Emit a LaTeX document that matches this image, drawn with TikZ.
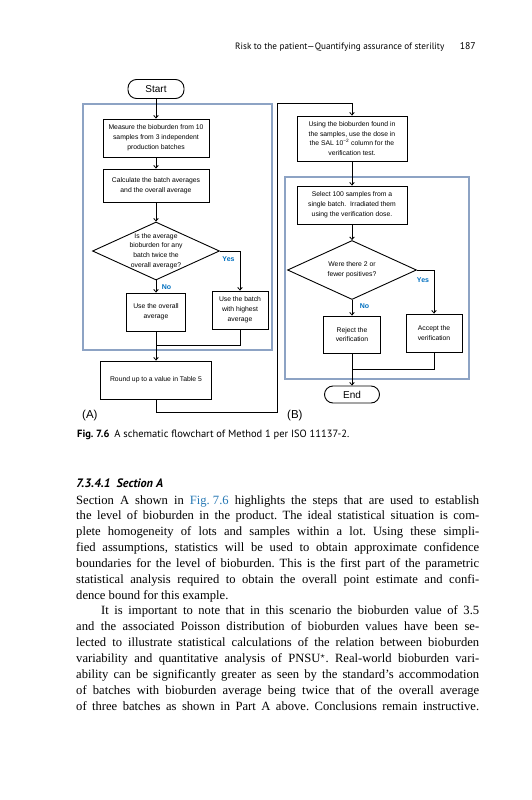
\documentclass[tikz,border=0pt]{standalone}
\usepackage{fontspec}
\setmainfont{Liberation Serif}
\setsansfont{Liberation Sans}
\newfontfamily\pagefont{PT Sans}
\usetikzlibrary{shapes.geometric,arrows.meta}
\definecolor{framebl}{RGB}{141,163,196}
\definecolor{answerbl}{RGB}{0,112,192}
\definecolor{linkbl}{RGB}{38,120,180}
\newcommand{\bodyline}[1]{\makebox[403pt][s]{#1}}
\frenchspacing

\begin{document}
\begin{tikzpicture}[x=1pt,y=-1pt,
        stepbox/.style={draw, line width=0.9pt, align=center, inner sep=0pt,
            font=\sffamily\fontsize{6.8}{9.8}\selectfont},
        endbox/.style={draw, line width=0.9pt, rounded corners=8.5pt, inner sep=0pt,
            font=\sffamily\fontsize{10}{12}\selectfont},
        decision/.style={draw, diamond, line width=0.9pt, inner sep=0pt},
        decisiontext/.style={align=center, inner sep=0pt, font=\sffamily\fontsize{6.8}{9.8}\selectfont},
        answer/.style={text=answerbl, inner sep=0pt, font=\sffamily\bfseries\fontsize{7}{8}\selectfont},
        frame/.style={draw=framebl, line width=2.6pt},
        flow/.style={line width=0.8pt, -{Straight Barb[length=2.5pt,width=4.5pt]}},
        wire/.style={line width=0.8pt},
        pagetext/.style={anchor=base west, inner sep=0pt},
        bodytext/.style={anchor=base west, inner sep=0pt, font=\fontsize{12.6}{15.85}\selectfont}]

    % page size
    \path[use as bounding box, fill=white] (0,0) rectangle (531,800);

    % running head
    \node[pagetext, font=\pagefont\fontsize{9.2}{11}\selectfont] (runhead) at (235,49)
        {Risk to the patient—Quantifying assurance of sterility};
    \node[pagetext, anchor=base east, font=\pagefont\fontsize{9.8}{11}\selectfont] (folio) at (476,49) {187};

    % the two section frames
    \draw[frame] (83,104) rectangle (272,350);
    \draw[frame] (285,177) rectangle (469,379);

    % section A
    \node[endbox, minimum width=56pt, minimum height=19pt] (start) at (156,89) {Start};
    \node[stepbox, minimum width=106pt, minimum height=38pt] (measure) at (156,138)
        {Measure the bioburden from 10\\samples from 3 independent\\production batches};
    \node[stepbox, minimum width=106pt, minimum height=33pt] (calc) at (156,185.5)
        {Calculate the batch averages\\and the overall average};
    \node[decision, minimum width=127pt, minimum height=58pt] (twice) at (156,251) {};
    \node[decisiontext] (twicetext) at (twice.center)
        {Is the average\\bioburden for any\\batch twice the\\overall average?};
    \node[stepbox, minimum width=59pt, minimum height=38pt] (overall) at (156,312)
        {Use the overall\\average};
    \node[stepbox, minimum width=56pt, minimum height=38pt] (highest) at (240,310)
        {Use the batch\\with highest\\average};
    \node[stepbox, minimum width=111pt, minimum height=38pt] (roundup) at (156,380)
        {Round up to a value in Table 5};
    \node[answer] (yesA) at (228.5,259) {Yes};
    \node[answer] (noA) at (166.5,287) {No};
    \coordinate (mergeA) at (156,345);

    % section B
    \node[stepbox, minimum width=110pt, minimum height=45pt] (dose) at (352,138.5)
        {Using the bioburden found in\\the samples, use the dose in\\the SAL 10\textsuperscript{−2} column for the\\verification test.};
    \node[stepbox, minimum width=110pt, minimum height=38pt] (select) at (352,205)
        {Select 100 samples from a\\single batch.\ \ Irradiated them\\using the verification dose.};
    \node[decision, minimum width=129pt, minimum height=59pt] (positives) at (352,270) {};
    \node[decisiontext] (positivestext) at (positives.center)
        {Were there 2 or\\fewer positives?};
    \node[stepbox, minimum width=57pt, minimum height=37pt] (reject) at (352,334.5)
        {Reject the\\verification};
    \node[stepbox, minimum width=56pt, minimum height=38pt] (accept) at (434,333)
        {Accept the\\verification};
    \node[endbox, minimum width=55pt, minimum height=17pt] (end) at (352,394.5) {End};
    \node[answer] (yesB) at (423,280) {Yes};
    \node[answer] (noB) at (364.5,306) {No};
    \coordinate (mergeB) at (352,369);

    % straight arrows
    \foreach \i/\j in {start/measure, measure/calc, calc/twice, twice/overall, overall/roundup,
                       dose/select, select/positives, positives/reject, reject/end} {
        \draw[flow] (\i) -- (\j);
        }

    % yes branches and joins
    \draw[flow] (twice.east) -| (highest.north);
    \draw[wire] (highest.south) |- (mergeA);
    \draw[flow] (positives.east) -| (accept.north);
    \draw[wire] (accept.south) |- (mergeB);

    % from A over to B
    \coordinate (turnA) at (277,412);
    \coordinate (turnB) at (277,103);
    \draw[flow] (roundup.south) |- (turnA) -- (turnB) -| (dose.north);

    \node[pagetext, font=\sffamily\fontsize{11.5}{13}\selectfont] (partA) at (82,418) {(A)};
    \node[pagetext, font=\sffamily\fontsize{11.5}{13}\selectfont] (partB) at (287,418) {(B)};

    % caption and section heading
    \node[pagetext, font=\pagefont\fontsize{10.5}{12}\selectfont] (caption) at (77,437.5)
        {\textbf{Fig. 7.6}\hspace{5pt}A schematic flowchart of Method 1 per ISO 11137-2.};
    \node[pagetext, font=\pagefont\bfseries\itshape\fontsize{12.2}{14}\selectfont] (sechead) at (76,487)
        {7.3.4.1\hspace{6pt}Section A};

    % body text
    \foreach \txt [count=\i] in {
        {Section A shown in \textcolor{linkbl}{\mbox{Fig. 7.6}} highlights the steps that are used to establish},
        {the level of bioburden in the product. The ideal statistical situation is com-},
        {plete homogeneity of lots and samples within a lot. Using these simpli-},
        {fied assumptions, statistics will be used to obtain approximate confidence},
        {boundaries for the level of bioburden. This is the first part of the parametric},
        {statistical analysis required to obtain the overall point estimate and confi-}} {
        \node[bodytext] (line\i) at (76,{504+15.85*(\i-1)}) {\bodyline{\txt}};
        }
    \node[bodytext] (line7) at (76,599.1) {dence bound for this example.};
    \node[bodytext] (line8) at (101,614.95)
        {\makebox[378pt][s]{It is important to note that in this scenario the bioburden value of 3.5}};
    \foreach \txt [count=\i] in {
        {and the associated Poisson distribution of bioburden values have been se-},
        {lected to illustrate statistical calculations of the relation between bioburden},
        {variability and quantitative analysis of PNSU$^{\star}$. Real-world bioburden vari-},
        {ability can be significantly greater as seen by the standard’s accommodation},
        {of batches with bioburden average being twice that of the overall average},
        {of three batches as shown in Part A above. Conclusions remain instructive.}} {
        \node[bodytext] (para\i) at (76,{630.8+15.85*(\i-1)}) {\bodyline{\txt}};
        }
\end{tikzpicture}
\end{document}
